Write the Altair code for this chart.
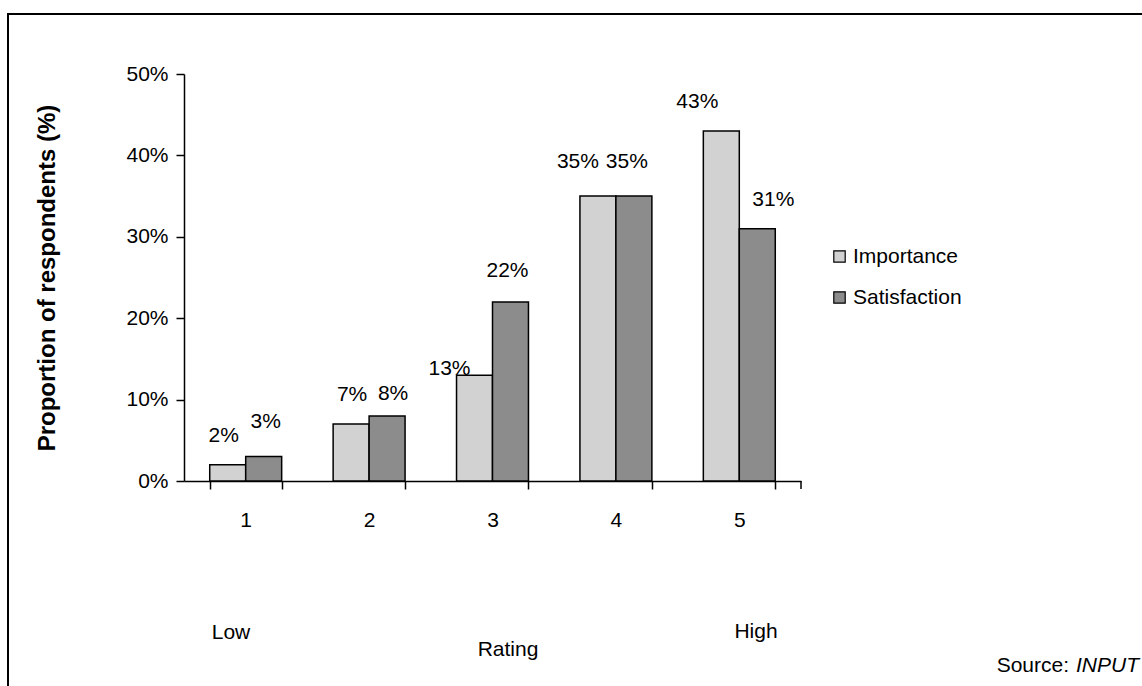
import altair as alt
import pandas as pd

# Survey results: share of respondents giving each rating
ratings = ["1", "2", "3", "4", "5"]
importance = [2, 7, 13, 35, 43]
satisfaction = [3, 8, 22, 35, 31]
series = ["Importance", "Satisfaction"]
y_ticks = [0, 10, 20, 30, 40, 50]

rows = []
for r, imp, sat in zip(ratings, importance, satisfaction):
    rows.append({"Rating": r, "Series": "Importance", "Value": imp})
    rows.append({"Rating": r, "Series": "Satisfaction", "Value": sat})
df = pd.DataFrame(rows)
df["Label"] = df["Value"].astype(str) + "%"
one_row = pd.DataFrame({"k": [0]})

FONT = "Liberation Sans"
W, H = 617, 407          # plot area
LEFT, TOP = 184, 74      # plot origin inside the page

x_enc = alt.X("Rating:N", sort=ratings,
              scale=alt.Scale(paddingInner=0.417, paddingOuter=0.2085),
              axis=alt.Axis(title=None, labelAngle=0, labelFont=FONT, labelFontSize=21,
                            labelColor="black", labelPadding=20, tickBand="extent",
                            tickSize=8, tickColor="black", domainColor="black",
                            domainWidth=1.5, tickWidth=1.5))
y_enc = alt.Y("Value:Q", scale=alt.Scale(domain=[0, 50], nice=False),
              axis=alt.Axis(title="Proportion of respondents (%)", values=y_ticks,
                            labelExpr="datum.value + '%'", grid=False,
                            labelFont=FONT, labelFontSize=21, labelColor="black",
                            labelPadding=8, tickSize=8, tickColor="black",
                            tickWidth=1.5, domainColor="black", domainWidth=1.5,
                            titleFont=FONT, titleFontSize=24, titleFontWeight="bold",
                            titleColor="black", titlePadding=66))
color_enc = alt.Color("Series:N", sort=series,
                      scale=alt.Scale(domain=series, range=["#d2d2d2", "#8c8c8c"]),
                      legend=alt.Legend(title=None, orient="none", legendX=645, legendY=172,
                                        symbolType="square", symbolSize=130,
                                        symbolStrokeColor="black", symbolStrokeWidth=1.2,
                                        labelFont=FONT, labelFontSize=21, labelColor="black",
                                        labelOffset=3, rowPadding=19))

bars = alt.Chart(df).mark_bar(stroke="black", strokeWidth=1.5, opacity=1).encode(
    x=x_enc,
    xOffset=alt.XOffset("Series:N", sort=series),
    y=y_enc,
    color=color_enc,
)

# Value labels above each bar; small nudges keep them clear of neighbours
nudge = {
    ("Importance", "1"): (-4, -29), ("Satisfaction", "1"): (2, -35),
    ("Importance", "2"): (1, -29), ("Satisfaction", "2"): (6, -22),
    ("Importance", "3"): (-25, -6), ("Satisfaction", "3"): (-3, -31),
    ("Importance", "4"): (-20, -34), ("Satisfaction", "4"): (-7, -34),
    ("Importance", "5"): (-24, -29), ("Satisfaction", "5"): (16, -29),
}
label_layers = []
for (s, r), (dx, dy) in nudge.items():
    label_layers.append(
        alt.Chart(df).transform_filter(
            (alt.datum.Series == s) & (alt.datum.Rating == r)
        ).mark_text(font=FONT, fontSize=21, color="black", dx=dx, dy=dy,
                    baseline="middle", align="center").encode(
            x=alt.X("Rating:N", sort=ratings),
            xOffset=alt.XOffset("Series:N", sort=series),
            y="Value:Q",
            text="Label:N",
        )
    )

# Closing tick at the right end of the category axis
end_tick = alt.Chart(one_row).mark_rule(color="black", strokeWidth=1.5).encode(
    x=alt.value(W), y=alt.value(H), y2=alt.value(H + 8)
)

notes = [
    # text, x, y, style, align
    ("Low", 47, 559, "normal", "center"),
    ("High", 572, 558, "normal", "center"),
    ("Rating", 324, 576, "normal", "center"),
    ("Source:", 885, 592, "normal", "right"),
    ("INPUT", 955, 592, "italic", "right"),
]
note_layers = []
for text, px, py, style, align in notes:
    note_layers.append(
        alt.Chart(one_row).mark_text(text=text, font=FONT, fontSize=21, color="black",
                                     fontStyle=style, align=align,
                                     baseline="middle").encode(
            x=alt.value(px), y=alt.value(py)
        )
    )

# Frame around the whole figure
frame = alt.Chart(one_row).mark_rect(fill=None, stroke="black", strokeWidth=2).encode(
    x=alt.value(8 - LEFT), x2=alt.value(1200 - LEFT),
    y=alt.value(14 - TOP), y2=alt.value(760 - TOP),
)

chart = alt.layer(frame, bars, end_tick, *label_layers, *note_layers).properties(
    width=W, height=H,
    autosize=alt.AutoSizeParams(type="none"),
    padding={"left": LEFT, "top": TOP, "right": 1142 - LEFT - W, "bottom": 686 - TOP - H},
    background="white",
).configure_view(stroke=None)

chart.save("out.html", embed_options={"renderer": "svg", "actions": False})
